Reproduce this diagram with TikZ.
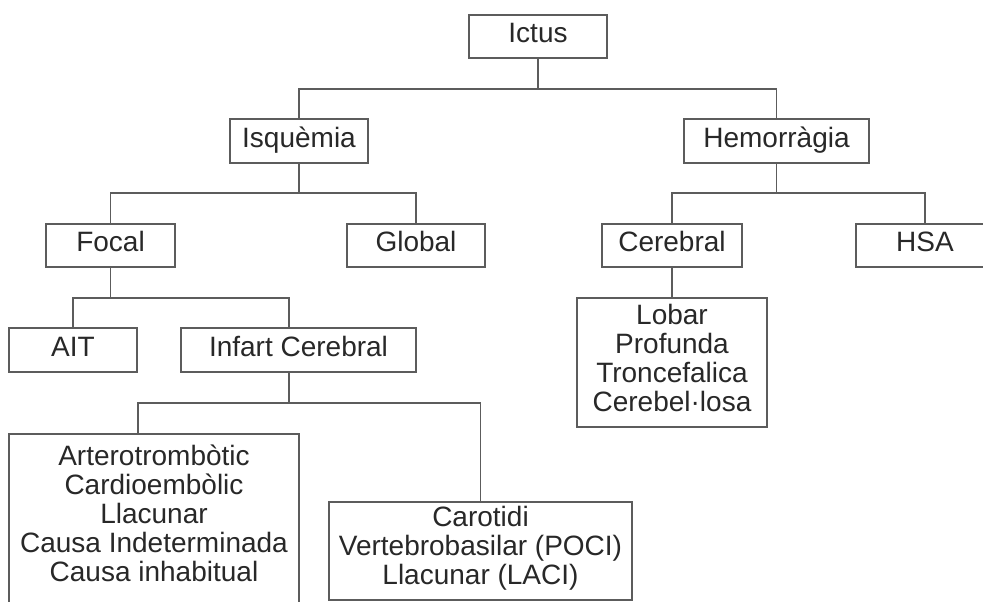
\documentclass[tikz,border=0pt]{standalone}
\usepackage{fontspec}
\setmainfont{Liberation Sans}
\definecolor{linec}{RGB}{92,92,92}
\definecolor{txtc}{RGB}{40,40,40}
\begin{document}
\begin{tikzpicture}[x=1pt,y=-1pt,
  box/.style={draw=linec, line width=1.6pt, fill=white, inner sep=0pt,
    align=center, text=txtc, font=\fontsize{28}{29}\selectfont},
  oneline/.style={text height=19pt, text depth=7pt},
  link/.style={draw=linec, line width=1.6pt}]
\useasboundingbox (0,0) rectangle (983,602);

% top levels
\node[box,oneline,minimum width=138pt,minimum height=43pt] (ictus)  at (538,36.5)   {Ictus};
\node[box,oneline,minimum width=138pt,minimum height=44pt] (isq)    at (299,141)    {Isquèmia};
\node[box,oneline,minimum width=185pt,minimum height=44pt] (hem)    at (776.5,141)  {Hemorràgia};
\node[box,oneline,minimum width=129pt,minimum height=43pt] (focal)  at (110.5,245.5){Focal};
\node[box,oneline,minimum width=138pt,minimum height=43pt] (global) at (416,245.5)  {Global};
\node[box,oneline,minimum width=140pt,minimum height=43pt] (cereb)  at (672,245.5)  {Cerebral};
\node[box,oneline,minimum width=138pt,minimum height=43pt] (hsa)    at (925,245.5)  {HSA};
\node[box,oneline,minimum width=128pt,minimum height=44pt] (ait)    at (73,350)     {AIT};
\node[box,oneline,minimum width=235pt,minimum height=44pt] (infart) at (298.5,350)  {Infart Cerebral};

% list boxes
\node[box,minimum width=190pt,minimum height=129pt] (lobar) at (672,362.5)
  {Lobar\\Profunda\\Troncefalica\\Cerebel·losa\rule[-8.5pt]{0pt}{0pt}};
\node[box,minimum width=303pt,minimum height=98pt] (carot) at (480.5,551)
  {Carotidi\\Vertebrobasilar (POCI)\\Llacunar (LACI)\rule[-10.5pt]{0pt}{0pt}};
\node[box,anchor=north,inner ysep=11.5pt,minimum width=290pt] (artero) at (154,433)
  {Arterotrombòtic\\Cardioembòlic\\Llacunar\\Causa Indeterminada\\Causa inhabitual\rule[-40pt]{0pt}{0pt}};

% bus points and taps
\coordinate (b1) at (538,89);
\coordinate (b2) at (299,193);
\coordinate (b3) at (776.5,193);
\coordinate (b4) at (110.5,298);
\coordinate (b5) at (289,403);
\coordinate (inftap) at (289,0);
\coordinate (arttap) at (138,0);

% connectors
\draw[link] (ictus.south) -- (b1);
\draw[link] (isq.north) |- (b1) -| (hem.north);
\draw[link] (isq.south) -- (b2);
\draw[link] (focal.north) |- (b2) -| (global.north);
\draw[link] (hem.south) -- (b3);
\draw[link] (cereb.north) |- (b3) -| (hsa.north);
\draw[link] (focal.south) -- (b4);
\draw[link] (ait.north) |- (b4) -| (infart.north -| inftap);
\draw[link] (cereb.south) -- (lobar.north);
\draw[link] (infart.south -| inftap) -- (b5);
\draw[link] (artero.north -| arttap) |- (b5) -| (carot.north);
\end{tikzpicture}
\end{document}
